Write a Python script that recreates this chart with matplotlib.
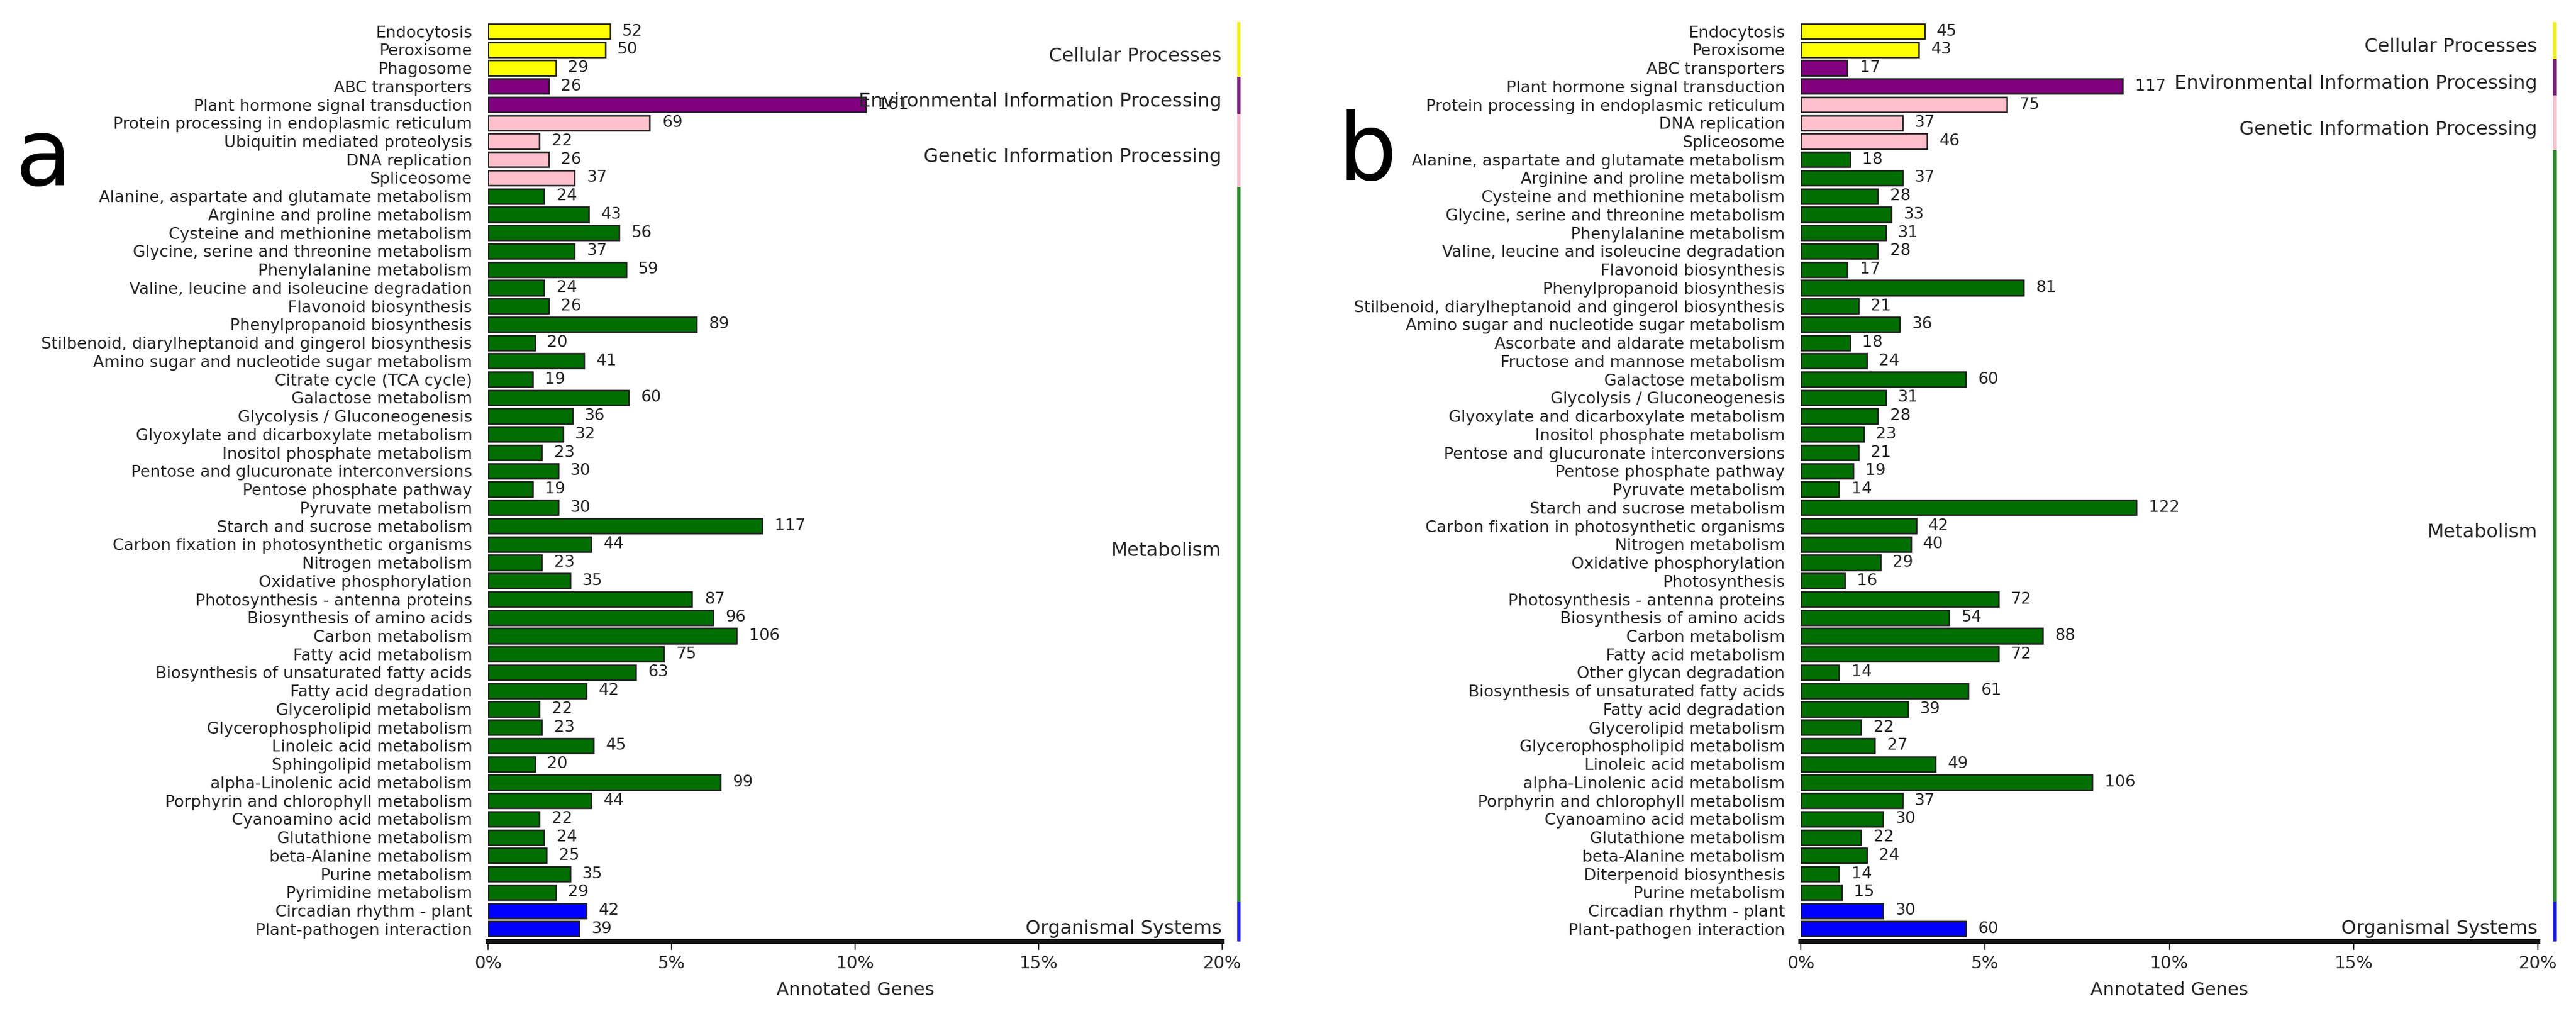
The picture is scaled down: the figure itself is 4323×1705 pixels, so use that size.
import matplotlib
matplotlib.use("Agg")
import matplotlib.pyplot as plt

plt.rcParams['font.family'] = ['DejaVu Sans']

# ---------------- data: panel a ----------------
a_names = [
    "Endocytosis", "Peroxisome", "Phagosome",
    "ABC transporters", "Plant hormone signal transduction",
    "Protein processing in endoplasmic reticulum", "Ubiquitin mediated proteolysis",
    "DNA replication", "Spliceosome",
    "Alanine, aspartate and glutamate metabolism", "Arginine and proline metabolism",
    "Cysteine and methionine metabolism", "Glycine, serine and threonine metabolism",
    "Phenylalanine metabolism", "Valine, leucine and isoleucine degradation",
    "Flavonoid biosynthesis", "Phenylpropanoid biosynthesis",
    "Stilbenoid, diarylheptanoid and gingerol biosynthesis",
    "Amino sugar and nucleotide sugar metabolism", "Citrate cycle (TCA cycle)",
    "Galactose metabolism", "Glycolysis / Gluconeogenesis",
    "Glyoxylate and dicarboxylate metabolism", "Inositol phosphate metabolism",
    "Pentose and glucuronate interconversions", "Pentose phosphate pathway",
    "Pyruvate metabolism", "Starch and sucrose metabolism",
    "Carbon fixation in photosynthetic organisms", "Nitrogen metabolism",
    "Oxidative phosphorylation", "Photosynthesis - antenna proteins",
    "Biosynthesis of amino acids", "Carbon metabolism", "Fatty acid metabolism",
    "Biosynthesis of unsaturated fatty acids", "Fatty acid degradation",
    "Glycerolipid metabolism", "Glycerophospholipid metabolism",
    "Linoleic acid metabolism", "Sphingolipid metabolism",
    "alpha-Linolenic acid metabolism", "Porphyrin and chlorophyll metabolism",
    "Cyanoamino acid metabolism", "Glutathione metabolism",
    "beta-Alanine metabolism", "Purine metabolism", "Pyrimidine metabolism",
    "Circadian rhythm - plant", "Plant-pathogen interaction",
]
a_counts = [52, 50, 29, 26, 161, 69, 22, 26, 37,
            24, 43, 56, 37, 59, 24, 26, 89, 20, 41, 19, 60, 36, 32, 23, 30, 19, 30,
            117, 44, 23, 35, 87, 96, 106, 75, 63, 42, 22, 23, 45, 20, 99, 44, 22,
            24, 25, 35, 29, 42, 39]
a_group_sizes = [3, 2, 4, 39, 2]
a_total = 1565

# ---------------- data: panel b ----------------
b_names = [
    "Endocytosis", "Peroxisome",
    "ABC transporters", "Plant hormone signal transduction",
    "Protein processing in endoplasmic reticulum", "DNA replication", "Spliceosome",
    "Alanine, aspartate and glutamate metabolism", "Arginine and proline metabolism",
    "Cysteine and methionine metabolism", "Glycine, serine and threonine metabolism",
    "Phenylalanine metabolism", "Valine, leucine and isoleucine degradation",
    "Flavonoid biosynthesis", "Phenylpropanoid biosynthesis",
    "Stilbenoid, diarylheptanoid and gingerol biosynthesis",
    "Amino sugar and nucleotide sugar metabolism", "Ascorbate and aldarate metabolism",
    "Fructose and mannose metabolism", "Galactose metabolism",
    "Glycolysis / Gluconeogenesis", "Glyoxylate and dicarboxylate metabolism",
    "Inositol phosphate metabolism", "Pentose and glucuronate interconversions",
    "Pentose phosphate pathway", "Pyruvate metabolism", "Starch and sucrose metabolism",
    "Carbon fixation in photosynthetic organisms", "Nitrogen metabolism",
    "Oxidative phosphorylation", "Photosynthesis", "Photosynthesis - antenna proteins",
    "Biosynthesis of amino acids", "Carbon metabolism", "Fatty acid metabolism",
    "Other glycan degradation", "Biosynthesis of unsaturated fatty acids",
    "Fatty acid degradation", "Glycerolipid metabolism",
    "Glycerophospholipid metabolism", "Linoleic acid metabolism",
    "alpha-Linolenic acid metabolism", "Porphyrin and chlorophyll metabolism",
    "Cyanoamino acid metabolism", "Glutathione metabolism", "beta-Alanine metabolism",
    "Diterpenoid biosynthesis", "Purine metabolism",
    "Circadian rhythm - plant", "Plant-pathogen interaction",
]
b_counts = [45, 43, 17, 117, 75, 37, 46,
            18, 37, 28, 33, 31, 28, 17, 81, 21, 36, 18, 24, 60, 31, 28, 23, 21, 19,
            14, 122, 42, 40, 29, 16, 72, 54, 88, 72, 14, 61, 39, 22, 27, 49, 106,
            37, 30, 22, 24, 14, 15, 30, 60]
b_group_sizes = [2, 2, 3, 41, 2]
b_total = 1340

group_names = ["Cellular Processes", "Environmental Information Processing",
               "Genetic Information Processing", "Metabolism", "Organismal Systems"]
bar_colors = ["#FFFF00", "#800080", "#FFC0CB", "#006E00", "#0000FF"]
line_colors = ["#F0F020", "#7A1E7A", "#F5C0CC", "#2A8A2A", "#2020E0"]
xticks = [0, 5, 10, 15, 20]
xtick_labels = ["0%", "5%", "10%", "15%", "20%"]

fig = plt.figure(figsize=(43.23, 17.05), dpi=100)
TXT = "#262626"
FS = 19.5


def draw_panel(rect, names, counts, sizes, total, letter, letter_xy):
    ax = fig.add_axes(rect)
    n = len(names)
    pos = list(range(n))
    pct = [c / total * 100 for c in counts]
    colors = []
    for g, s in enumerate(sizes):
        colors += [bar_colors[g]] * s
    ax.barh(pos, pct, height=0.82, color=colors, edgecolor="#1c1c1c", linewidth=1.8)
    for p, v, c in zip(pos, pct, counts):
        ax.text(v + 0.33, p, str(c), va="center", ha="left", fontsize=FS, color=TXT)
    ax.set_xlim(0, 20)
    ax.set_ylim(n - 0.3, -0.5)
    ax.set_yticks(pos)
    ax.set_yticklabels(names, fontsize=FS, color=TXT)
    ax.tick_params(axis="y", length=0, pad=19)
    ax.set_xticks(xticks)
    ax.set_xticklabels(xtick_labels, fontsize=21, color=TXT)
    ax.tick_params(axis="x", length=10, width=1.5, color="#333333", pad=6)
    for s in ("left", "right", "top"):
        ax.spines[s].set_visible(False)
    ax.spines["bottom"].set_linewidth(6)
    ax.spines["bottom"].set_color("#111111")
    ax.set_xlabel("Annotated Genes", fontsize=22, color=TXT, labelpad=12)
    # group indicator lines and labels
    start = 0
    for g, s in enumerate(sizes):
        y0, y1 = start - 0.5, start + s - 0.5
        if g == len(sizes) - 1:
            y1 = n - 0.3
        ax.plot([20.45, 20.45], [y0, y1], color=line_colors[g], lw=4,
                clip_on=False, solid_capstyle="butt")
        yc = (y0 + y1) / 2 + 0.35
        if g == len(sizes) - 1:
            yc = start + s - 1.0
        ax.text(19.98, yc, group_names[g], ha="right", va="center",
                fontsize=23, color=TXT)
        start += s
    fig.text(letter_xy[0], letter_xy[1], letter, fontsize=112, ha="center",
             va="center", color="black")
    return ax


draw_panel([0.1894, 0.0731, 0.2851, 0.9051], a_names, a_counts, a_group_sizes,
           a_total, "a", (0.017, 0.843))
draw_panel([0.6990, 0.0731, 0.2863, 0.9051], b_names, b_counts, b_group_sizes,
           b_total, "b", (0.531, 0.848))

fig.savefig("out.png", dpi=100, facecolor="white")
